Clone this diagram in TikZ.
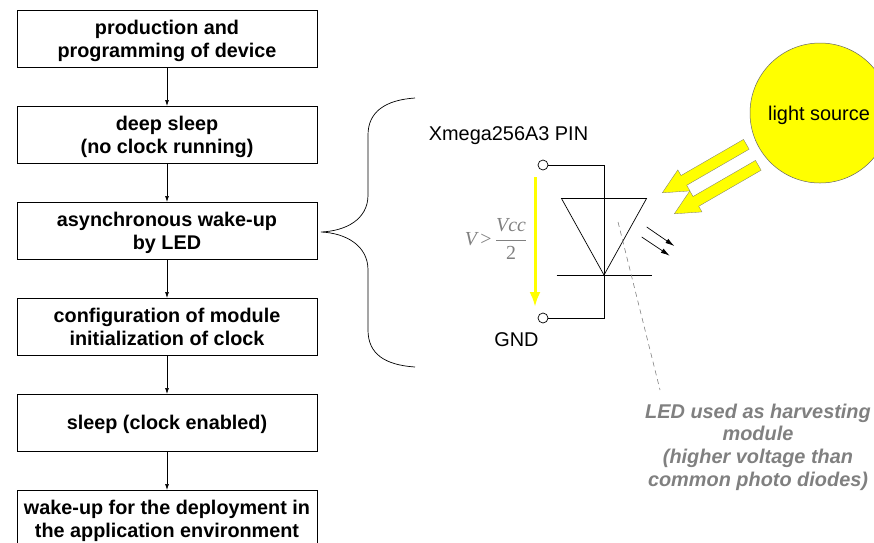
\documentclass[tikz,border=0pt]{standalone}
\usepackage{fontspec}
\setmainfont{Liberation Sans}
\newfontfamily\formulafont{Liberation Serif}
\usetikzlibrary{positioning,shapes.arrows,arrows.meta}
\definecolor{lightyellow}{RGB}{255,255,0}
\definecolor{notegray}{RGB}{128,128,128}
\newcommand{\formulatext}[1]{\hbox{\formulafont #1}}
\tikzset{
  flowbox/.style={draw, line width=.8pt, outer sep=0pt, minimum width=300pt, minimum height=57pt, inner sep=0pt, align=center, text depth=0pt, font=\fontsize{19.8}{23}\selectfont\bfseries},
  flowarrow/.style={-{Latex[length=6pt,width=4pt]}, line width=.7pt},
  pinnode/.style={draw, circle, fill=white, line width=.7pt, minimum size=10pt, inner sep=0pt},
  lightarrow/.style={single arrow, anchor=tip, draw=black!55, line width=.3pt, fill=lightyellow, minimum height=97pt, minimum width=24pt, single arrow head extend=6.5pt, single arrow tip angle=52, inner xsep=0pt, inner ysep=5.5pt, rotate=210},
  emitarrow/.style={-{Latex[length=9pt,width=5pt]}, line width=.7pt},
  plain/.style={font=\fontsize{19.9}{24}\selectfont}
}
\begin{document}
\begin{tikzpicture}[x=1pt, y=-1pt]
\clip (0, 0) rectangle (874, 542);
% flow chart
\node[flowbox] (production) at (167, 38.5) {production and\\programming of device};
\node[flowbox, below=39pt of production] (deepsleep) {deep sleep\\(no clock running)};
\node[flowbox, below=39pt of deepsleep] (wakeup) {asynchronous wake-up\\by LED};
\node[flowbox, below=39pt of wakeup] (config) {configuration of module\\initialization of clock};
\node[flowbox, below=39pt of config] (sleep) {sleep (clock enabled)};
\node[flowbox, below=39pt of sleep] (deploy) {wake-up for the deployment in\\the application environment};
\draw[flowarrow] (production) -- (deepsleep);
\draw[flowarrow] (deepsleep) -- (wakeup);
\draw[flowarrow] (wakeup) -- (config);
\draw[flowarrow] (config) -- (sleep);
\draw[flowarrow] (sleep) -- (deploy);
% brace
\coordinate (bracetop) at (415, 98);
\coordinate (bracetip) at (321, 232);
\coordinate (bracebot) at (415, 367);
\draw[line width=.7pt] (bracetop) .. controls (385, 100) and (368, 112) .. (368, 135) -- (368, 195)
  .. controls (368, 220) and (345, 231) .. (bracetip)
  .. controls (345, 233) and (368, 245) .. (368, 270) -- (368, 330)
  .. controls (368, 354) and (385, 365) .. (bracebot);
% circuit
\node[plain] (pinlabel) at (508.5, 136) {Xmega256A3 PIN};
\node[plain] (gndlabel) at (516.5, 340) {GND};
\node[pinnode] (pin) at (543, 165) {};
\node[pinnode] (gnd) at (543, 318) {};
\coordinate (cathode) at (604, 275);
\draw[line width=.7pt] (pin) -| (cathode) |- (gnd);
\draw[line width=.7pt] (561.5, 198.5) -- (646.5, 198.5) -- (cathode) -- cycle;
\draw[line width=.7pt] (556.5, 275) -- (651.5, 275);
\draw[-{Latex[length=15pt,width=11pt]}, lightyellow, line width=3pt] (535, 177) -- (535, 307);
\node[notegray, font=\fontsize{19.9}{24}\selectfont] (voltage) at (496, 239) {$\formulatext{\itshape V}\,\formulatext{>}\,\displaystyle\frac{\formulatext{\itshape Vcc}}{\formulatext{2}}$};
% light
\node[draw=black!60, circle, fill=lightyellow, line width=.5pt, minimum size=140pt, inner sep=0pt] (source) at (820, 113) {};
\node[plain] (sourcelabel) at (819, 115) {light source};
\node[lightarrow] (beama) at (662, 193) {};
\node[lightarrow] (beamb) at (674, 214) {};
\draw[emitarrow] (646.7, 227) -- (674.3, 246);
\draw[emitarrow] (641.7, 237) -- (669.7, 255.7);
% note
\coordinate (dashstart) at (618, 222);
\coordinate (dashend) at (660, 390);
\draw[notegray, dash pattern=on 5pt off 4pt, line width=.6pt] (dashstart) -- (dashend);
\node[notegray, align=center, font=\fontsize{19.9}{22.7}\selectfont\bfseries\itshape] (note) at (758, 447) {LED used as harvesting\\module\\(higher voltage than\\common photo diodes)};
\end{tikzpicture}
\end{document}
